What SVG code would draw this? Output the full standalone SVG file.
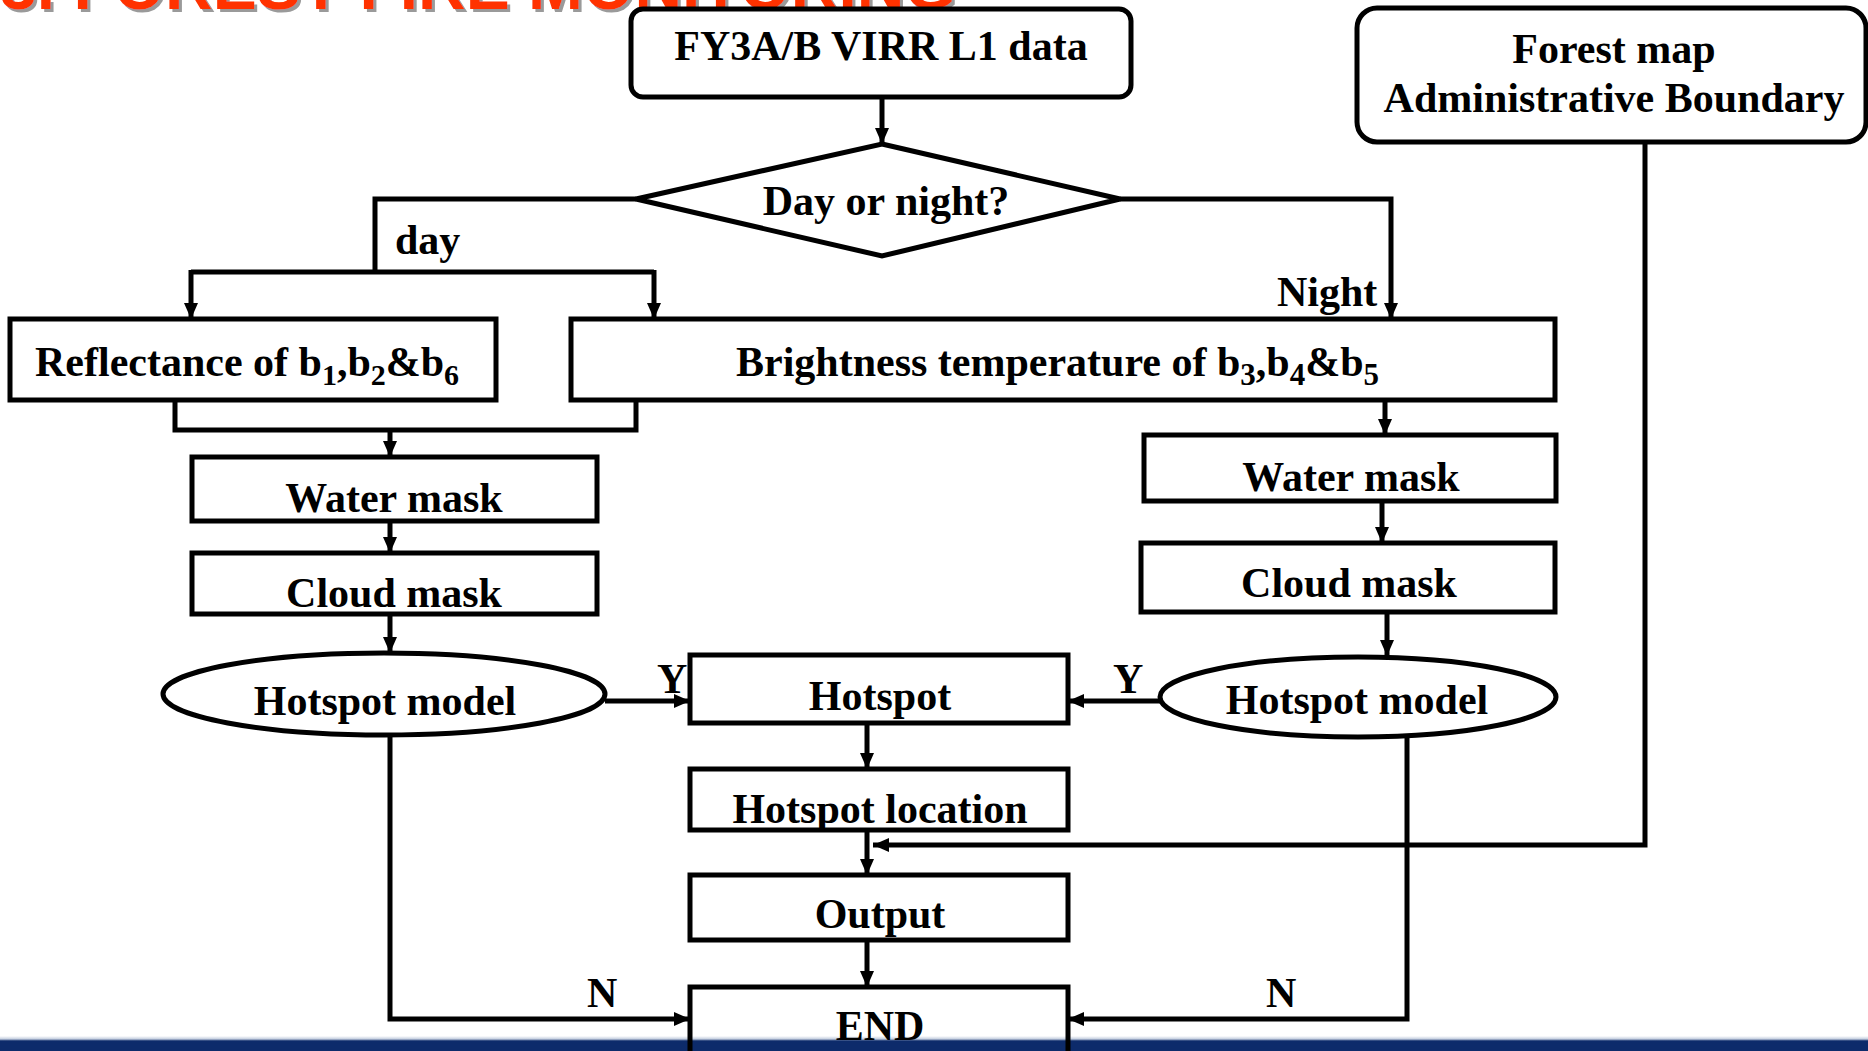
<svg xmlns="http://www.w3.org/2000/svg" width="1868" height="1051" viewBox="0 0 1868 1051">
<style>
.box{fill:#fff;stroke:#000;stroke-width:5}
.t{font-family:"Liberation Serif","Times New Roman",serif;font-weight:bold;font-size:42px;fill:#000}
.c{text-anchor:middle}
.ln{fill:none;stroke:#000;stroke-width:5;stroke-linejoin:miter}
.ar{marker-end:url(#ah)}
</style>
<defs>
<marker id="ah" viewBox="0 0 16 14" refX="16" refY="7" markerWidth="16" markerHeight="14" markerUnits="userSpaceOnUse" orient="auto">
<path d="M0,0 L16,7 L0,14 z" fill="#000"/>
</marker>
<filter id="sh" x="-5%" y="-50%" width="110%" height="200%">
<feDropShadow dx="3" dy="3" stdDeviation="0.5" flood-color="#9a9a9a"/>
</filter>
<linearGradient id="bg" x1="0" y1="0" x2="0" y2="1">
<stop offset="0" stop-color="#ffffff"/>
<stop offset="0.2" stop-color="#c4cedf"/>
<stop offset="0.33" stop-color="#0d2b6b"/>
<stop offset="1" stop-color="#0d2b6b"/>
</linearGradient>
</defs>
<rect width="1868" height="1051" fill="#fff"/>
<text x="0" y="9" filter="url(#sh)" style="font-family:'Liberation Sans',Arial,sans-serif;font-weight:bold;font-size:66px;fill:#ff3300">3. FOREST FIRE MONITORING</text>
<rect x="0" y="1036" width="1868" height="15" fill="url(#bg)"/>

<g id="connectors">
<line class="ln ar" x1="882" y1="97" x2="882" y2="144"/>
<polyline class="ln" points="636,199 375,199 375,272"/>
<line class="ln" x1="191" y1="272" x2="654" y2="272"/>
<line class="ln ar" x1="191" y1="270" x2="191" y2="319"/>
<line class="ln ar" x1="654" y1="270" x2="654" y2="319"/>
<polyline class="ln ar" points="1120,199 1391,199 1391,319"/>
<polyline class="ln" points="175,400 175,430 636,430 636,400"/>
<line class="ln ar" x1="390" y1="430" x2="390" y2="457"/>
<line class="ln ar" x1="390" y1="521" x2="390" y2="553"/>
<line class="ln ar" x1="390" y1="614" x2="390" y2="653"/>
<line class="ln ar" x1="1385" y1="400" x2="1385" y2="435"/>
<line class="ln ar" x1="1382" y1="501" x2="1382" y2="543"/>
<line class="ln ar" x1="1387" y1="612" x2="1387" y2="656"/>
<line class="ln ar" x1="605" y1="701" x2="690" y2="701"/>
<line class="ln ar" x1="1160" y1="701" x2="1068" y2="701"/>
<line class="ln ar" x1="867" y1="723" x2="867" y2="769"/>
<line class="ln ar" x1="867" y1="830" x2="867" y2="875"/>
<polyline class="ln ar" points="1645,142 1645,845 873,845"/>
<line class="ln ar" x1="867" y1="940" x2="867" y2="987"/>
<polyline class="ln ar" points="390,735 390,1019 690,1019"/>
<polyline class="ln ar" points="1407,737 1407,1019 1068,1019"/>
<text class="t" x="395" y="254">day</text>
<text class="t" x="1277" y="306">Night</text>
<text class="t" x="657" y="693">Y</text>
<text class="t" x="1113" y="693">Y</text>
<text class="t" x="587" y="1007">N</text>
<text class="t" x="1266" y="1007">N</text>
</g>

<g id="n-fy3">
<rect class="box" x="631" y="9" width="500" height="88" rx="12"/>
<text class="t c" x="881" y="60">FY3A/B VIRR L1 data</text>
</g>
<g id="n-forest">
<rect class="box" x="1357" y="8" width="509" height="134" rx="20"/>
<text class="t c" x="1614" y="63">Forest map</text>
<text class="t c" x="1614" y="112">Administrative Boundary</text>
</g>
<g id="n-daynight">
<polygon class="box" points="882,144 1120,199 882,256 636,199"/>
<text class="t c" x="886" y="215">Day or night?</text>
</g>
<g id="n-reflect">
<rect class="box" x="10" y="319" width="486" height="81"/>
<text class="t" x="35" y="376" font-size="43">Reflectance of b<tspan font-size="30" dy="9">1</tspan><tspan dy="-9">,b</tspan><tspan font-size="30" dy="9">2</tspan><tspan dy="-9">&amp;b</tspan><tspan font-size="30" dy="9">6</tspan></text>
</g>
<g id="n-bright">
<rect class="box" x="571" y="319" width="984" height="81"/>
<text class="t" x="736" y="376" font-size="44">Brightness temperature of b<tspan font-size="31" dy="9">3</tspan><tspan dy="-9">,b</tspan><tspan font-size="31" dy="9">4</tspan><tspan dy="-9">&amp;b</tspan><tspan font-size="31" dy="9">5</tspan></text>
</g>
<g id="n-water-l">
<rect class="box" x="192" y="457" width="405" height="64"/>
<text class="t c" x="394" y="512">Water mask</text>
</g>
<g id="n-cloud-l">
<rect class="box" x="192" y="553" width="405" height="61"/>
<text class="t c" x="394" y="607">Cloud mask</text>
</g>
<g id="n-model-l">
<ellipse class="box" cx="384" cy="694" rx="221" ry="41"/>
<text class="t c" x="385" y="715">Hotspot model</text>
</g>
<g id="n-water-r">
<rect class="box" x="1144" y="435" width="412" height="66"/>
<text class="t c" x="1351" y="491">Water mask</text>
</g>
<g id="n-cloud-r">
<rect class="box" x="1141" y="543" width="414" height="69"/>
<text class="t c" x="1349" y="597">Cloud mask</text>
</g>
<g id="n-model-r">
<ellipse class="box" cx="1358" cy="697" rx="198" ry="40"/>
<text class="t c" x="1357" y="714">Hotspot model</text>
</g>
<g id="n-hotspot">
<rect class="box" x="690" y="655" width="378" height="68"/>
<text class="t c" x="880" y="710">Hotspot</text>
</g>
<g id="n-location">
<rect class="box" x="690" y="769" width="378" height="61"/>
<text class="t c" x="880" y="823">Hotspot location</text>
</g>
<g id="n-output">
<rect class="box" x="690" y="875" width="378" height="65"/>
<text class="t c" x="880" y="928">Output</text>
</g>
<g id="n-end">
<rect class="box" x="690" y="987" width="378" height="90" style="fill:none"/>
<text class="t c" x="880" y="1040">END</text>
</g>
</svg>
